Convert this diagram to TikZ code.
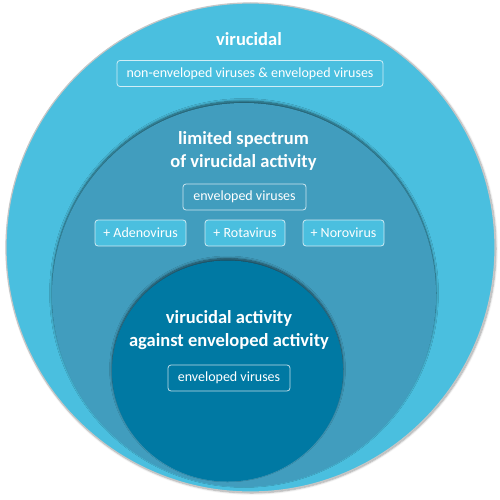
\documentclass[tikz,border=0pt]{standalone}
\usepackage{fontspec}
\setmainfont{Carlito}
\usetikzlibrary{shadows.blur}

\definecolor{outerblue}{HTML}{4ABFDF}
\definecolor{midblue}{HTML}{419DBE}
\definecolor{innerblue}{HTML}{0079A3}

\tikzset{
  title/.style={text=white,font=\fontsize{18.5}{23}\selectfont\bfseries,align=center},
  virusbox/.style={draw=white,draw opacity=0.75,line width=0.8pt,rounded corners=3pt,
    text=white,font=\fontsize{14}{16}\selectfont,minimum height=26,inner xsep=0pt},
  ringshadow/.style={blur shadow={shadow xshift=0pt,shadow yshift=2pt,
    shadow blur radius=2.5pt,shadow opacity=60,shadow blur steps=8}}
}

\begin{document}
\begin{tikzpicture}[x=1pt,y=-1pt]
  \useasboundingbox (0,0) rectangle (500,500);
  % circles
  \draw[fill=outerblue,draw=gray!45,line width=1.2pt,
    blur shadow={shadow xshift=1pt,shadow yshift=-1pt,shadow blur radius=2pt,shadow opacity=40}]
    (250.5,247.5) circle (244.5);
  \fill[midblue,ringshadow] (244,295) circle (192);
  \fill[innerblue,ringshadow] (227.5,371) ellipse [x radius=115.5,y radius=110.5];

  % outer ring
  \node[title] (virucidal) at (249,39) {virucidal};
  \node[virusbox,minimum width=266] (allviruses) at (250,73.5)
    {non-enveloped viruses \& enveloped viruses};

  % middle ring
  \node[title] (limited) at (243.5,151) {limited spectrum\\of virucidal activity};
  \node[virusbox,minimum width=123] (midenv) at (244.5,197) {enveloped viruses};
  \node[virusbox,fill=outerblue,minimum width=91] (adeno) at (140.5,233) {+ Adenovirus};
  \node[virusbox,fill=outerblue,minimum width=80] (rota) at (245,233) {+ Rotavirus};
  \node[virusbox,fill=outerblue,minimum width=81] (noro) at (343.5,233) {+ Norovirus};

  % inner ring
  \node[title] (enveloped) at (229,330) {virucidal activity\\against enveloped activity};
  \node[virusbox,minimum width=122] (innerenv) at (229,378) {enveloped viruses};
\end{tikzpicture}
\end{document}
